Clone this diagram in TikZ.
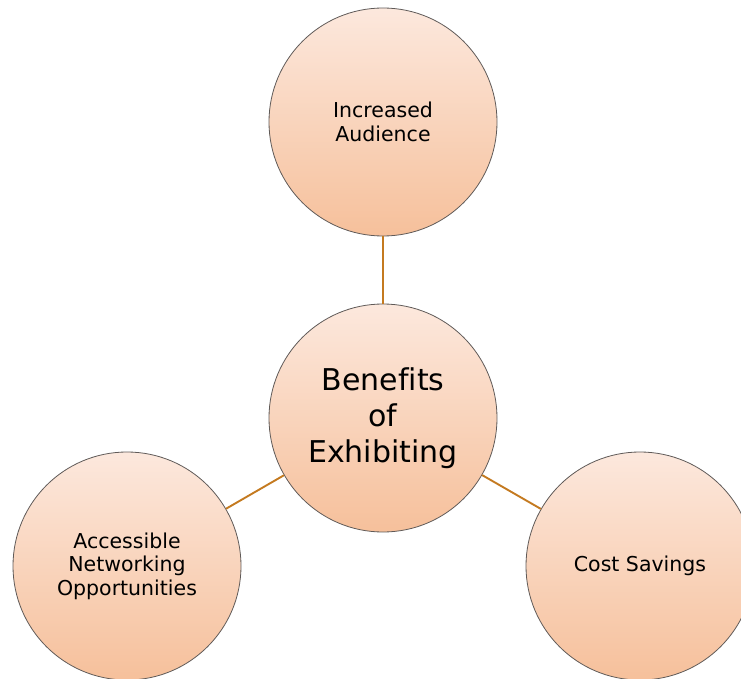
\documentclass[tikz,border=0pt]{standalone}
\usepackage{fontspec}
\setmainfont{DejaVu Sans}[Ligatures=NoCommon]
\begin{document}
\begin{tikzpicture}[
    x=1pt, y=-1pt,
    every node/.style={
        circle,
        draw=circleLine,
        line width=0.8pt,
        minimum size=228pt,
        inner sep=0pt,
        top color=peachTop,
        middle color=peachMid,
        bottom color=peachBottom,
        align=center,
        font=\fontsize{20.5}{23.5}\selectfont
    }
]

% colours
\definecolor{peachTop}{RGB}{252,232,221}    % light top of each circle
\definecolor{peachMid}{RGB}{250,217,197}
\definecolor{peachBottom}{RGB}{246,192,155} % darker bottom
\definecolor{circleLine}{RGB}{95,90,88}
\definecolor{edgeBrown}{RGB}{196,122,32}

% page frame (circles are cut at right and bottom)
\clip (0,0) rectangle (741,679);

% nodes
\node (audience) at (383,122) {Increased\\Audience};

\node[font=\fontsize{30}{36}\selectfont] (center) at (383,418) {Benefits\\of\\Exhibiting};

\node (network) at (127,566) {Accessible\\Networking\\Opportunities};
\node (savings) at (640,566) {Cost Savings};

% edges
\draw[edgeBrown, line width=1.9pt] (center) -- (audience);
\draw[edgeBrown, line width=1.9pt] (center) -- (network);
\draw[edgeBrown, line width=1.9pt] (center) -- (savings);

\end{tikzpicture}
\end{document}
